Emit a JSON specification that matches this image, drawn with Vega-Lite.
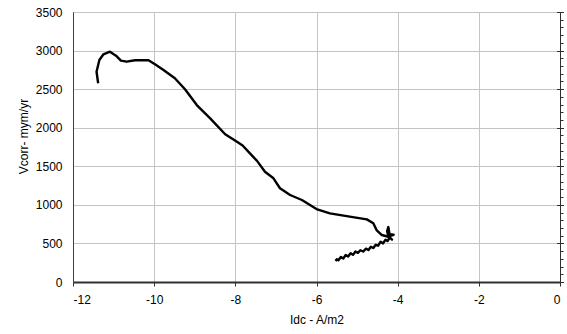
{
 "$schema": "https://vega.github.io/schema/vega-lite/v6.json",
 "width": 487,
 "height": 270,
 "autosize": {"type": "none"},
 "padding": {"left": 73, "top": 12, "right": 7, "bottom": 52},
 "background": "white",
 "config": {"font": "Liberation Sans", "view": {"stroke": "#404040", "strokeWidth": 1}},
 "data": {"values": [
  {"i": 1, "idc": -11.38, "vcorr": 2576},
  {"i": 2, "idc": -11.42, "vcorr": 2726},
  {"i": 3, "idc": -11.35, "vcorr": 2878},
  {"i": 4, "idc": -11.25, "vcorr": 2952},
  {"i": 5, "idc": -11.09, "vcorr": 2985},
  {"i": 6, "idc": -10.94, "vcorr": 2934},
  {"i": 7, "idc": -10.82, "vcorr": 2869},
  {"i": 8, "idc": -10.68, "vcorr": 2856},
  {"i": 9, "idc": -10.47, "vcorr": 2874},
  {"i": 10, "idc": -10.14, "vcorr": 2874},
  {"i": 11, "idc": -9.98, "vcorr": 2822},
  {"i": 12, "idc": -9.77, "vcorr": 2748},
  {"i": 13, "idc": -9.49, "vcorr": 2641},
  {"i": 14, "idc": -9.24, "vcorr": 2498},
  {"i": 15, "idc": -8.95, "vcorr": 2294},
  {"i": 16, "idc": -8.62, "vcorr": 2122},
  {"i": 17, "idc": -8.25, "vcorr": 1915},
  {"i": 18, "idc": -7.95, "vcorr": 1815},
  {"i": 19, "idc": -7.82, "vcorr": 1770},
  {"i": 20, "idc": -7.64, "vcorr": 1668},
  {"i": 21, "idc": -7.47, "vcorr": 1573},
  {"i": 22, "idc": -7.27, "vcorr": 1430},
  {"i": 23, "idc": -7.06, "vcorr": 1344},
  {"i": 24, "idc": -6.90, "vcorr": 1215},
  {"i": 25, "idc": -6.65, "vcorr": 1128},
  {"i": 26, "idc": -6.36, "vcorr": 1063},
  {"i": 27, "idc": -6.00, "vcorr": 946},
  {"i": 28, "idc": -5.67, "vcorr": 890},
  {"i": 29, "idc": -5.18, "vcorr": 847},
  {"i": 30, "idc": -4.76, "vcorr": 812},
  {"i": 31, "idc": -4.60, "vcorr": 761},
  {"i": 32, "idc": -4.52, "vcorr": 674},
  {"i": 33, "idc": -4.39, "vcorr": 609},
  {"i": 34, "idc": -4.23, "vcorr": 587},
  {"i": 35, "idc": -4.26, "vcorr": 660},
  {"i": 36, "idc": -4.23, "vcorr": 712},
  {"i": 37, "idc": -4.20, "vcorr": 620},
  {"i": 38, "idc": -4.10, "vcorr": 612},
  {"i": 39, "idc": -4.22, "vcorr": 590},
  {"i": 40, "idc": -4.14, "vcorr": 550},
  {"i": 41, "idc": -4.20, "vcorr": 575},
  {"i": 42, "idc": -4.25, "vcorr": 530},
  {"i": 43, "idc": -4.30, "vcorr": 548},
  {"i": 44, "idc": -4.36, "vcorr": 500},
  {"i": 45, "idc": -4.42, "vcorr": 522},
  {"i": 46, "idc": -4.48, "vcorr": 470},
  {"i": 47, "idc": -4.54, "vcorr": 482},
  {"i": 48, "idc": -4.60, "vcorr": 440},
  {"i": 49, "idc": -4.66, "vcorr": 458},
  {"i": 50, "idc": -4.72, "vcorr": 415},
  {"i": 51, "idc": -4.78, "vcorr": 432},
  {"i": 52, "idc": -4.85, "vcorr": 395},
  {"i": 53, "idc": -4.92, "vcorr": 412},
  {"i": 54, "idc": -4.98, "vcorr": 378},
  {"i": 55, "idc": -5.04, "vcorr": 395},
  {"i": 56, "idc": -5.10, "vcorr": 352},
  {"i": 57, "idc": -5.16, "vcorr": 372},
  {"i": 58, "idc": -5.22, "vcorr": 330},
  {"i": 59, "idc": -5.28, "vcorr": 350},
  {"i": 60, "idc": -5.34, "vcorr": 305},
  {"i": 61, "idc": -5.40, "vcorr": 325},
  {"i": 62, "idc": -5.46, "vcorr": 282},
  {"i": 63, "idc": -5.50, "vcorr": 294},
  {"i": 64, "idc": -5.53, "vcorr": 272}
 ]},
 "layer": [
  {
   "mark": {"type": "line", "color": "black", "strokeWidth": 2.4, "strokeJoin": "round"},
   "encoding": {
    "x": {"field": "idc", "type": "quantitative",
     "scale": {"domain": [-12, 0], "nice": false},
     "axis": {"values": [-12, -10, -8, -6, -4, -2, 0], "labelExpr": "'' + datum.value", "title": "Idc - A/m2", "grid": true, "gridColor": "#c4c4c4",
      "domainColor": "#303030", "domainWidth": 2, "tickColor": "#303030", "tickSize": 4,
      "labelFontSize": 12, "labelColor": "black", "labelPadding": 8,
      "titleFontSize": 12, "titleFontWeight": "normal", "titleColor": "black", "titlePadding": 9}},
    "y": {"field": "vcorr", "type": "quantitative",
     "scale": {"domain": [0, 3500], "nice": false},
     "axis": {"values": [0, 500, 1000, 1500, 2000, 2500, 3000, 3500], "labelExpr": "'' + datum.value", "title": "Vcorr- mym/yr", "grid": true, "gridColor": "#c4c4c4",
      "domainColor": "#404040", "ticks": false, "tickSize": 0, "labelPadding": 11,
      "labelFontSize": 12, "labelColor": "black",
      "titleFontSize": 12, "titleFontWeight": "normal", "titleColor": "black",
      "titleX": -50, "titleY": 124, "titleAngle": -90, "titleAlign": "center", "titleBaseline": "middle"}},
    "order": {"field": "i", "type": "quantitative"}
   }
  },
  {
   "mark": {"type": "line", "opacity": 0},
   "encoding": {
    "x": {"field": "idc", "type": "quantitative"},
    "y": {"field": "vcorr", "type": "quantitative",
     "axis": {"orient": "right", "values": [0,100,200,300,400,500,600,700,800,900,1000,1100,1200,1300,1400,1500,1600,1700,1800,1900,2000,2100,2200,2300,2400,2500,2600,2700,2800,2900,3000,3100,3200,3300,3400,3500],
      "labels": false, "title": null, "grid": false, "domainColor": "#303030", "tickColor": "#303030", "tickSize": 3}},
    "order": {"field": "i", "type": "quantitative"}
   }
  },
  {
   "mark": {"type": "line", "opacity": 0},
   "encoding": {
    "x": {"field": "idc", "type": "quantitative"},
    "y": {"field": "vcorr", "type": "quantitative",
     "axis": {"orient": "right", "values": [0, 500, 1000, 1500, 2000, 2500, 3000, 3500],
      "labels": false, "title": null, "grid": false, "domain": false, "tickColor": "#303030", "tickSize": 7, "offset": -3.5}},
    "order": {"field": "i", "type": "quantitative"}
   }
  }
 ],
 "resolve": {"axis": {"y": "independent"}}
}
